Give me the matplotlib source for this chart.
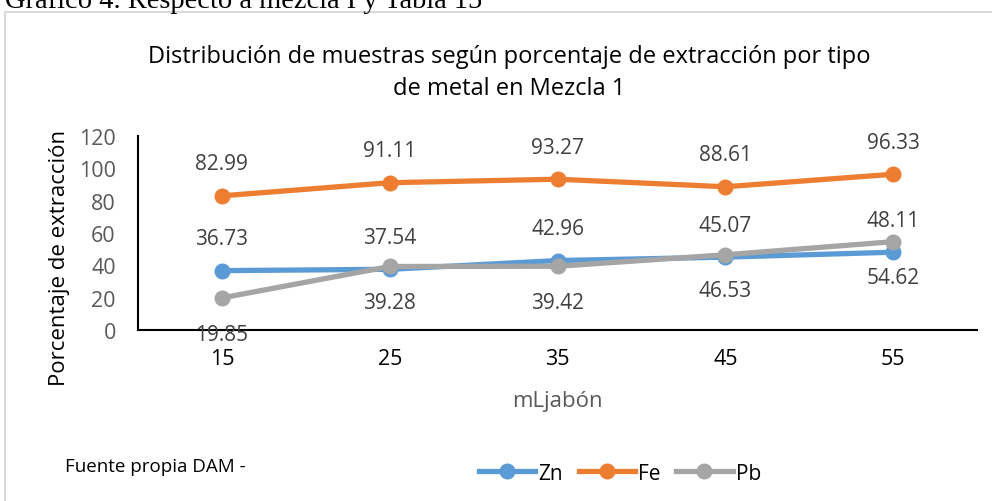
import matplotlib
matplotlib.use("Agg")
import matplotlib.pyplot as plt
from matplotlib.patches import Rectangle
from matplotlib.lines import Line2D

categories = ["15", "25", "35", "45", "55"]
zn = [36.73, 37.54, 42.96, 45.07, 48.11]
fe = [82.99, 91.11, 93.27, 88.61, 96.33]
pb = [19.85, 39.28, 39.42, 46.53, 54.62]
yticks = [0, 20, 40, 60, 80, 100, 120]

title = "Distribución de muestras según porcentaje de extracción por tipo\nde metal en Mezcla 1"
c_zn, c_fe, c_pb = "#5b9bd5", "#ed7d31", "#a5a5a5"
MAIN = ["Open Sans", "DejaVu Sans"]

W, H = 992, 502
fig = plt.figure(figsize=(W / 100, H / 100), dpi=100)

# chart frame (extends beyond the right/bottom edges)
fig.patches.append(Rectangle((5 / W, -0.1), 1.2, 1 - 13 / H + 0.1, transform=fig.transFigure,
                             fill=False, edgecolor="#d9d9d9", linewidth=1.5))

# caption above the chart, partially cut off as in the reference
fig.text(5 / W, 1 - 7.5 / H, "Gráfico 4. Respecto a mezcla I y Tabla 15", family="Liberation Serif",
         fontsize=20.5, va="baseline", ha="left", color="black")

ax = fig.add_axes([138 / W, 1 - 331 / H, (977 - 138) / W, (331 - 137) / H])
x = list(range(len(categories)))
for vals, col in [(zn, c_zn), (fe, c_fe), (pb, c_pb)]:
    ax.plot(x, vals, color=col, linewidth=3.8, marker="o", markersize=10.5, solid_capstyle="round", zorder=3)

LBL = dict(ha="center", va="center", fontsize=15, color="#404040", family=MAIN, textcoords="offset points")
for i in x:
    ax.annotate(f"{fe[i]:.2f}", (i, fe[i]), xytext=(0, 23), **LBL)
    ax.annotate(f"{zn[i]:.2f}", (i, zn[i]), xytext=(0, 23), **LBL)
    ax.annotate(f"{pb[i]:.2f}", (i, pb[i]), xytext=(0, -26), **LBL)

ax.set_xlim(-0.5, len(categories) - 0.5)
ax.set_ylim(0, 120)
ax.set_yticks(yticks)
ax.set_yticklabels([str(v) for v in yticks], family=MAIN, fontsize=15.5, color="#595959")
ax.set_xticks(x)
ax.set_xticklabels(categories, family=MAIN, fontsize=15.5, color="black")
ax.tick_params(axis="both", length=0)
ax.tick_params(axis="y", pad=16)
ax.tick_params(axis="x", pad=13)
for s in ["top", "right"]:
    ax.spines[s].set_visible(False)
for s in ["left", "bottom"]:
    ax.spines[s].set_color("black")
    ax.spines[s].set_linewidth(1.5)
ax.patch.set_alpha(0)

fig.text(60 / W, 1 - 258 / H, "Porcentaje de extracción", rotation=90, ha="center", va="center",
         family=MAIN, fontsize=16, color="black")
fig.text(557 / W, 1 - 402 / H, "mLjabón", ha="center", va="center", family=MAIN, fontsize=16, color="#595959")
fig.text(509 / W, 1 - 73 / H, title, ha="center", va="center", family=MAIN, fontsize=17,
         color="black", linespacing=1.45)
fig.text(65 / W, 1 - 467 / H, "Fuente propia DAM -", ha="left", va="center", family=MAIN,
         fontsize=13.5, color="black")

handles = [Line2D([], [], color=c, linewidth=3.8, marker="o", markersize=10.5) for c in (c_zn, c_fe, c_pb)]
fig.legend(handles, ["Zn", "Fe", "Pb"], loc="center", bbox_to_anchor=(620 / W, 1 - 474 / H), ncol=3,
           frameon=False, prop={"family": MAIN, "size": 15}, handlelength=2.7, handletextpad=0.15,
           columnspacing=0.75, borderpad=0)

fig.savefig("out.png", dpi=100)
